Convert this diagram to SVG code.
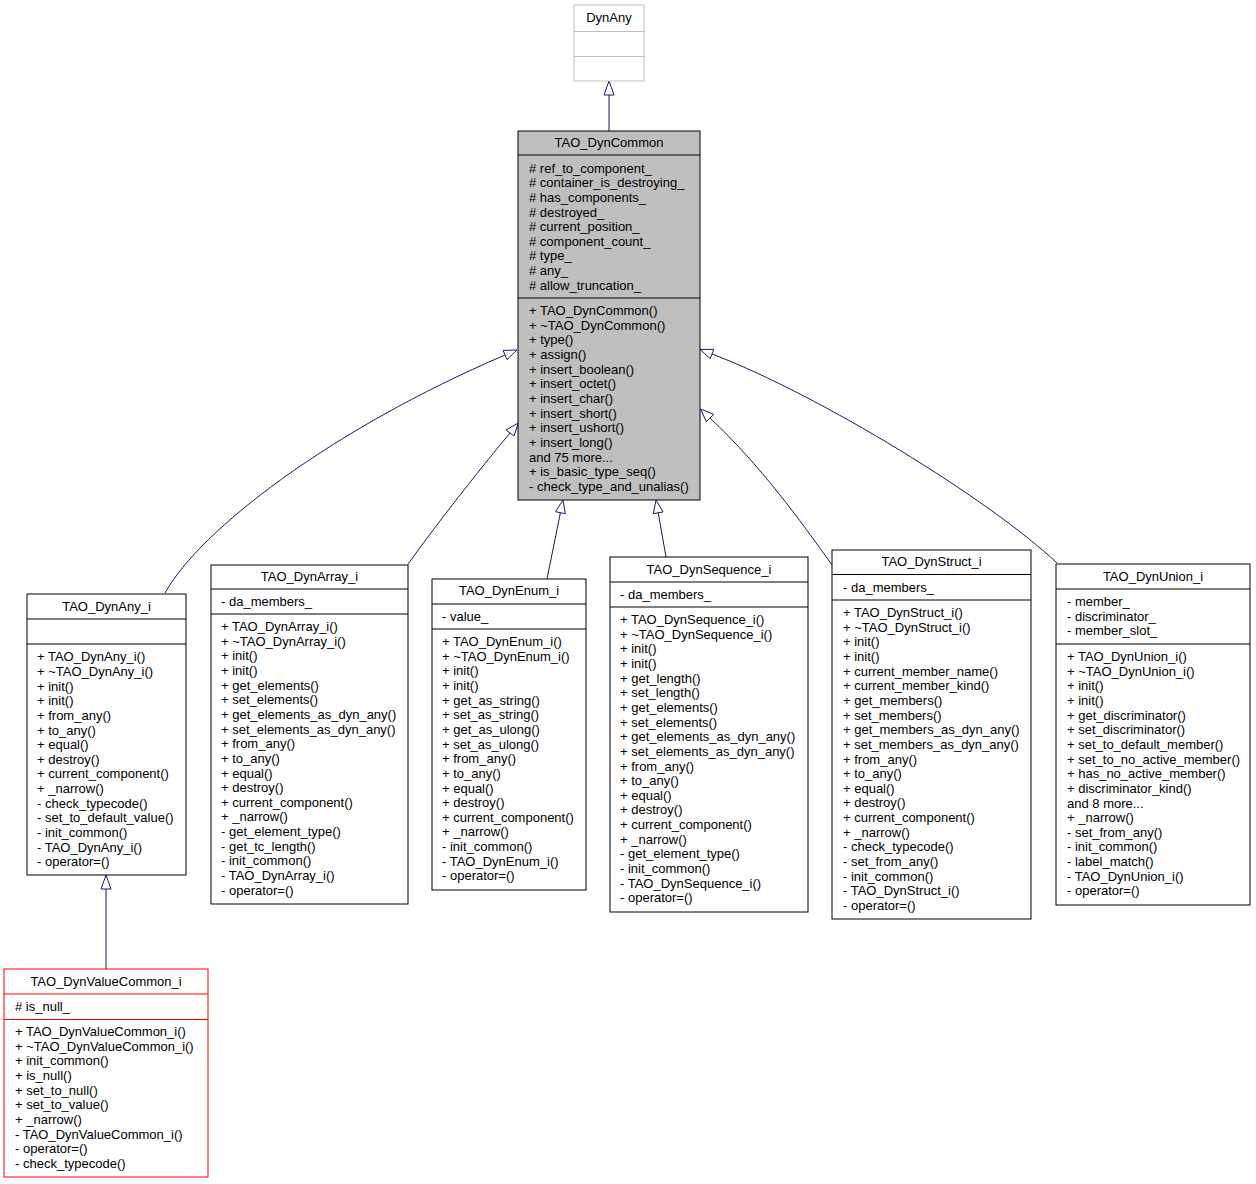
<svg xmlns="http://www.w3.org/2000/svg" width="1256" height="1184" viewBox="0 0 1256 1184">
<style>
text{font-family:"Liberation Sans",Arial,Helvetica,sans-serif;font-size:13px;fill:#000}
.c{text-anchor:middle}
.box{fill:#fff;stroke:#000;stroke-width:1}
.sep{stroke:#000;stroke-width:1}
.gray .box{stroke:#bfbfbf}
.gray .sep{stroke:#bfbfbf}
.cur .box{fill:#bfbfbf}
.red .box{stroke:#ff0000}
.red .sep{stroke:#ff0000}
.edge{fill:none;stroke:#191970;stroke-width:1}
.head{fill:#fff;stroke:#191970;stroke-width:1}
</style>
<rect width="1256" height="1184" fill="#fff"/>
<g id="connectors">
<path class="edge" d="M609,131 L609,95"/>
<polygon class="head" points="609,81 614,95 604,95"/>
<path class="edge" d="M165,593 C200,530 330,430 505,355"/>
<polygon class="head" points="517,350 507,359.6 503.1,350.4"/>
<path class="edge" d="M408,564 C440,520 475,475 510,433"/>
<polygon class="head" points="518.3,423 514,436 506,430"/>
<path class="edge" d="M547,579 L560.4,512.7"/>
<polygon class="head" points="563,500 565.3,513.7 555.5,511.7"/>
<path class="edge" d="M666,557 L658.2,512.8"/>
<polygon class="head" points="656,500 663.1,511.9 653.3,513.7"/>
<path class="edge" d="M832,565 C800,520 760,465 710,418"/>
<polygon class="head" points="700.5,409 706.3,421.7 713.7,414.3"/>
<path class="edge" d="M1057,563 C990,500 820,395 712,354"/>
<polygon class="head" points="700,349.4 710.2,358.6 713.8,349.4"/>
<path class="edge" d="M106,969 L106,889"/>
<polygon class="head" points="106,875 111,889 101,889"/>
</g>
<g id="DynAny" class="gray">
<rect class="box" x="574" y="5" width="70" height="76"/>
<line class="sep" x1="574" y1="31.5" x2="644" y2="31.5"/>
<line class="sep" x1="574" y1="56.5" x2="644" y2="56.5"/>
<text class="c" x="609" y="22">DynAny</text>
</g>
<g id="TAO_DynCommon" class="cur">
<rect class="box" x="518" y="131" width="182" height="369"/>
<line class="sep" x1="518" y1="155" x2="700" y2="155"/>
<line class="sep" x1="518" y1="298" x2="700" y2="298"/>
<text class="c" x="609" y="147">TAO_DynCommon</text>
<text y="172.6"><tspan x="529"># ref_to_component_</tspan><tspan x="529" dy="14.64"># container_is_destroying_</tspan><tspan x="529" dy="14.64"># has_components_</tspan><tspan x="529" dy="14.64"># destroyed_</tspan><tspan x="529" dy="14.64"># current_position_</tspan><tspan x="529" dy="14.64"># component_count_</tspan><tspan x="529" dy="14.64"># type_</tspan><tspan x="529" dy="14.64"># any_</tspan><tspan x="529" dy="14.64"># allow_truncation_</tspan></text>
<text y="315.1"><tspan x="529">+ TAO_DynCommon()</tspan><tspan x="529" dy="14.64">+ ~TAO_DynCommon()</tspan><tspan x="529" dy="14.64">+ type()</tspan><tspan x="529" dy="14.64">+ assign()</tspan><tspan x="529" dy="14.64">+ insert_boolean()</tspan><tspan x="529" dy="14.64">+ insert_octet()</tspan><tspan x="529" dy="14.64">+ insert_char()</tspan><tspan x="529" dy="14.64">+ insert_short()</tspan><tspan x="529" dy="14.64">+ insert_ushort()</tspan><tspan x="529" dy="14.64">+ insert_long()</tspan><tspan x="529" dy="14.64">and 75 more...</tspan><tspan x="529" dy="14.64">+ is_basic_type_seq()</tspan><tspan x="529" dy="14.64">- check_type_and_unalias()</tspan></text>
</g>
<g id="TAO_DynAny_i">
<rect class="box" x="27" y="594" width="159" height="281"/>
<line class="sep" x1="27" y1="619" x2="186" y2="619"/>
<line class="sep" x1="27" y1="644" x2="186" y2="644"/>
<text class="c" x="106.5" y="611">TAO_DynAny_i</text>
<text y="661.3"><tspan x="37">+ TAO_DynAny_i()</tspan><tspan x="37" dy="14.64">+ ~TAO_DynAny_i()</tspan><tspan x="37" dy="14.64">+ init()</tspan><tspan x="37" dy="14.64">+ init()</tspan><tspan x="37" dy="14.64">+ from_any()</tspan><tspan x="37" dy="14.64">+ to_any()</tspan><tspan x="37" dy="14.64">+ equal()</tspan><tspan x="37" dy="14.64">+ destroy()</tspan><tspan x="37" dy="14.64">+ current_component()</tspan><tspan x="37" dy="14.64">+ _narrow()</tspan><tspan x="37" dy="14.64">- check_typecode()</tspan><tspan x="37" dy="14.64">- set_to_default_value()</tspan><tspan x="37" dy="14.64">- init_common()</tspan><tspan x="37" dy="14.64">- TAO_DynAny_i()</tspan><tspan x="37" dy="14.64">- operator=()</tspan></text>
</g>
<g id="TAO_DynArray_i">
<rect class="box" x="211" y="565" width="197" height="339"/>
<line class="sep" x1="211" y1="589" x2="408" y2="589"/>
<line class="sep" x1="211" y1="614" x2="408" y2="614"/>
<text class="c" x="309.5" y="581">TAO_DynArray_i</text>
<text x="221" y="606">- da_members_</text>
<text y="631.1"><tspan x="221">+ TAO_DynArray_i()</tspan><tspan x="221" dy="14.64">+ ~TAO_DynArray_i()</tspan><tspan x="221" dy="14.64">+ init()</tspan><tspan x="221" dy="14.64">+ init()</tspan><tspan x="221" dy="14.64">+ get_elements()</tspan><tspan x="221" dy="14.64">+ set_elements()</tspan><tspan x="221" dy="14.64">+ get_elements_as_dyn_any()</tspan><tspan x="221" dy="14.64">+ set_elements_as_dyn_any()</tspan><tspan x="221" dy="14.64">+ from_any()</tspan><tspan x="221" dy="14.64">+ to_any()</tspan><tspan x="221" dy="14.64">+ equal()</tspan><tspan x="221" dy="14.64">+ destroy()</tspan><tspan x="221" dy="14.64">+ current_component()</tspan><tspan x="221" dy="14.64">+ _narrow()</tspan><tspan x="221" dy="14.64">- get_element_type()</tspan><tspan x="221" dy="14.64">- get_tc_length()</tspan><tspan x="221" dy="14.64">- init_common()</tspan><tspan x="221" dy="14.64">- TAO_DynArray_i()</tspan><tspan x="221" dy="14.64">- operator=()</tspan></text>
</g>
<g id="TAO_DynEnum_i">
<rect class="box" x="432" y="579" width="154" height="311"/>
<line class="sep" x1="432" y1="604" x2="586" y2="604"/>
<line class="sep" x1="432" y1="629" x2="586" y2="629"/>
<text class="c" x="509" y="595">TAO_DynEnum_i</text>
<text x="442" y="621">- value_</text>
<text y="646.1"><tspan x="442">+ TAO_DynEnum_i()</tspan><tspan x="442" dy="14.64">+ ~TAO_DynEnum_i()</tspan><tspan x="442" dy="14.64">+ init()</tspan><tspan x="442" dy="14.64">+ init()</tspan><tspan x="442" dy="14.64">+ get_as_string()</tspan><tspan x="442" dy="14.64">+ set_as_string()</tspan><tspan x="442" dy="14.64">+ get_as_ulong()</tspan><tspan x="442" dy="14.64">+ set_as_ulong()</tspan><tspan x="442" dy="14.64">+ from_any()</tspan><tspan x="442" dy="14.64">+ to_any()</tspan><tspan x="442" dy="14.64">+ equal()</tspan><tspan x="442" dy="14.64">+ destroy()</tspan><tspan x="442" dy="14.64">+ current_component()</tspan><tspan x="442" dy="14.64">+ _narrow()</tspan><tspan x="442" dy="14.64">- init_common()</tspan><tspan x="442" dy="14.64">- TAO_DynEnum_i()</tspan><tspan x="442" dy="14.64">- operator=()</tspan></text>
</g>
<g id="TAO_DynSequence_i">
<rect class="box" x="610" y="557" width="198" height="355"/>
<line class="sep" x1="610" y1="582" x2="808" y2="582"/>
<line class="sep" x1="610" y1="607" x2="808" y2="607"/>
<text class="c" x="709" y="574">TAO_DynSequence_i</text>
<text x="620" y="599">- da_members_</text>
<text y="624.1"><tspan x="620">+ TAO_DynSequence_i()</tspan><tspan x="620" dy="14.64">+ ~TAO_DynSequence_i()</tspan><tspan x="620" dy="14.64">+ init()</tspan><tspan x="620" dy="14.64">+ init()</tspan><tspan x="620" dy="14.64">+ get_length()</tspan><tspan x="620" dy="14.64">+ set_length()</tspan><tspan x="620" dy="14.64">+ get_elements()</tspan><tspan x="620" dy="14.64">+ set_elements()</tspan><tspan x="620" dy="14.64">+ get_elements_as_dyn_any()</tspan><tspan x="620" dy="14.64">+ set_elements_as_dyn_any()</tspan><tspan x="620" dy="14.64">+ from_any()</tspan><tspan x="620" dy="14.64">+ to_any()</tspan><tspan x="620" dy="14.64">+ equal()</tspan><tspan x="620" dy="14.64">+ destroy()</tspan><tspan x="620" dy="14.64">+ current_component()</tspan><tspan x="620" dy="14.64">+ _narrow()</tspan><tspan x="620" dy="14.64">- get_element_type()</tspan><tspan x="620" dy="14.64">- init_common()</tspan><tspan x="620" dy="14.64">- TAO_DynSequence_i()</tspan><tspan x="620" dy="14.64">- operator=()</tspan></text>
</g>
<g id="TAO_DynStruct_i">
<rect class="box" x="832" y="550" width="199" height="369"/>
<line class="sep" x1="832" y1="574.5" x2="1031" y2="574.5"/>
<line class="sep" x1="832" y1="600" x2="1031" y2="600"/>
<text class="c" x="931.5" y="566">TAO_DynStruct_i</text>
<text x="843" y="591.6">- da_members_</text>
<text y="617.1"><tspan x="843">+ TAO_DynStruct_i()</tspan><tspan x="843" dy="14.64">+ ~TAO_DynStruct_i()</tspan><tspan x="843" dy="14.64">+ init()</tspan><tspan x="843" dy="14.64">+ init()</tspan><tspan x="843" dy="14.64">+ current_member_name()</tspan><tspan x="843" dy="14.64">+ current_member_kind()</tspan><tspan x="843" dy="14.64">+ get_members()</tspan><tspan x="843" dy="14.64">+ set_members()</tspan><tspan x="843" dy="14.64">+ get_members_as_dyn_any()</tspan><tspan x="843" dy="14.64">+ set_members_as_dyn_any()</tspan><tspan x="843" dy="14.64">+ from_any()</tspan><tspan x="843" dy="14.64">+ to_any()</tspan><tspan x="843" dy="14.64">+ equal()</tspan><tspan x="843" dy="14.64">+ destroy()</tspan><tspan x="843" dy="14.64">+ current_component()</tspan><tspan x="843" dy="14.64">+ _narrow()</tspan><tspan x="843" dy="14.64">- check_typecode()</tspan><tspan x="843" dy="14.64">- set_from_any()</tspan><tspan x="843" dy="14.64">- init_common()</tspan><tspan x="843" dy="14.64">- TAO_DynStruct_i()</tspan><tspan x="843" dy="14.64">- operator=()</tspan></text>
</g>
<g id="TAO_DynUnion_i">
<rect class="box" x="1056" y="564" width="194" height="341"/>
<line class="sep" x1="1056" y1="589" x2="1250" y2="589"/>
<line class="sep" x1="1056" y1="644" x2="1250" y2="644"/>
<text class="c" x="1153" y="580.6">TAO_DynUnion_i</text>
<text y="606.1"><tspan x="1067">- member_</tspan><tspan x="1067" dy="14.64">- discriminator_</tspan><tspan x="1067" dy="14.64">- member_slot_</tspan></text>
<text y="661.1"><tspan x="1067">+ TAO_DynUnion_i()</tspan><tspan x="1067" dy="14.64">+ ~TAO_DynUnion_i()</tspan><tspan x="1067" dy="14.64">+ init()</tspan><tspan x="1067" dy="14.64">+ init()</tspan><tspan x="1067" dy="14.64">+ get_discriminator()</tspan><tspan x="1067" dy="14.64">+ set_discriminator()</tspan><tspan x="1067" dy="14.64">+ set_to_default_member()</tspan><tspan x="1067" dy="14.64">+ set_to_no_active_member()</tspan><tspan x="1067" dy="14.64">+ has_no_active_member()</tspan><tspan x="1067" dy="14.64">+ discriminator_kind()</tspan><tspan x="1067" dy="14.64">and 8 more...</tspan><tspan x="1067" dy="14.64">+ _narrow()</tspan><tspan x="1067" dy="14.64">- set_from_any()</tspan><tspan x="1067" dy="14.64">- init_common()</tspan><tspan x="1067" dy="14.64">- label_match()</tspan><tspan x="1067" dy="14.64">- TAO_DynUnion_i()</tspan><tspan x="1067" dy="14.64">- operator=()</tspan></text>
</g>
<g id="TAO_DynValueCommon_i" class="red">
<rect class="box" x="4" y="969" width="204" height="208"/>
<line class="sep" x1="4" y1="994" x2="208" y2="994"/>
<line class="sep" x1="4" y1="1019.5" x2="208" y2="1019.5"/>
<text class="c" x="106" y="985.6">TAO_DynValueCommon_i</text>
<text x="15" y="1011.1"># is_null_</text>
<text y="1036.1"><tspan x="15">+ TAO_DynValueCommon_i()</tspan><tspan x="15" dy="14.64">+ ~TAO_DynValueCommon_i()</tspan><tspan x="15" dy="14.64">+ init_common()</tspan><tspan x="15" dy="14.64">+ is_null()</tspan><tspan x="15" dy="14.64">+ set_to_null()</tspan><tspan x="15" dy="14.64">+ set_to_value()</tspan><tspan x="15" dy="14.64">+ _narrow()</tspan><tspan x="15" dy="14.64">- TAO_DynValueCommon_i()</tspan><tspan x="15" dy="14.64">- operator=()</tspan><tspan x="15" dy="14.64">- check_typecode()</tspan></text>
</g>
</svg>
